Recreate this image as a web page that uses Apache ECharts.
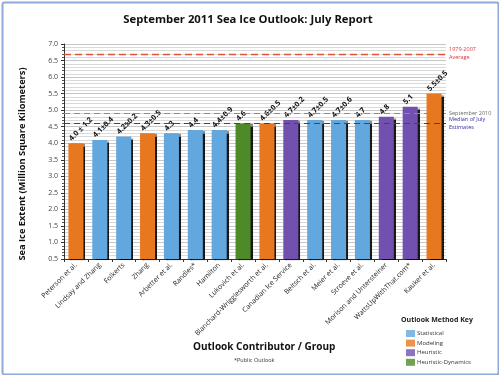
<!DOCTYPE html>
<html>
<head>
<meta charset="utf-8">
<script src="https://cdn.jsdelivr.net/npm/echarts@6/dist/echarts.min.js"></script>
<style>
  html, body { margin: 0; padding: 0; background: #fff; }
  #chart { width: 499px; height: 375px; }
</style>
</head>
<body>
<div id="chart"></div>
<script>
// outlook contributors, sorted by estimate
const categories = [
  "Peterson et al.", "Lindsay and Zhang", "Folkerts", "Zhang", "Arbetter et al.",
  "Randles*", "Hamilton", "Lukovich et al.", "Blanchard-Wrigglesworth et al.",
  "Canadian Ice Service", "Beitsch et al.", "Meier et al.", "Stroeve et al.",
  "Morison and Untersteiner", "WattsUpWithThat.com*", "Kauker et al."
];
const values = [4.0, 4.1, 4.2, 4.3, 4.3, 4.4, 4.4, 4.6, 4.6, 4.7, 4.7, 4.7, 4.7, 4.8, 5.1, 5.5];
const barLabels = [
  "4.0 ± 1.2", "4.1±0.4", "4.2±0.2", "4.3±0.5", "4.3", "4.4", "4.4±0.9", "4.6",
  "4.6±0.5", "4.7±0.2", "4.7±0.5", "4.7±0.6", "4.7", "4.8", "5.1", "5.5±0.5"
];
const methods = [
  "Modeling", "Statistical", "Statistical", "Modeling", "Statistical", "Statistical",
  "Statistical", "Heuristic-Dynamics", "Modeling", "Heuristic", "Statistical",
  "Statistical", "Statistical", "Heuristic", "Heuristic", "Modeling"
];
const methodNames = ["Statistical", "Modeling", "Heuristic", "Heuristic-Dynamics"];
const methodColors = {
  "Statistical": "#62a7de",
  "Modeling": "#e8781f",
  "Heuristic": "#7150b0",
  "Heuristic-Dynamics": "#4e8a28"
};
const yTicks = { min: 0.5, max: 7.0, step: 0.5 };
const avg7907 = 6.7;
const sept2010 = 4.9;
const julyMedian = 4.6;

const chart = echarts.init(document.getElementById("chart"));

const legendSeries = methodNames.map(function (m) {
  return { name: m, type: "scatter", data: [], itemStyle: { color: methodColors[m] } };
});

const option = {
  animation: false,
  title: {
    text: "September 2011 Sea Ice Outlook: July Report",
    left: 243, top: 9, textAlign: "center",
    textStyle: { fontFamily: "Open Sans", fontSize: 11.3, fontWeight: "bold", color: "#111" }
  },
  grid: { left: 64, right: 53, top: 44, bottom: 116 },
  legend: {
    data: methodNames,
    orient: "vertical",
    left: 401, top: 325,
    itemWidth: 9, itemHeight: 7, itemGap: 2.6,
    icon: "rect",
    textStyle: { fontFamily: "Open Sans", fontSize: 6, color: "#333", padding: [0, 0, 0, -3] }
  },
  graphic: [
    {
      type: "rect", left: 0, top: 0,
      shape: { x: 1, y: 1, width: 496, height: 372, r: 2 },
      style: { fill: "none", stroke: "#8eaad8", lineWidth: 2 }
    },
    {
      type: "text", x: 22, y: 164, rotation: Math.PI / 2,
      style: {
        text: "Sea Ice Extent (Million Square Kilometers)", fontFamily: "Open Sans",
        fontSize: 9.3, fontWeight: "bold", fill: "#111", align: "center", verticalAlign: "middle"
      }
    },
    {
      type: "text", left: 401, top: 316,
      style: { text: "Outlook Method Key", fontFamily: "Open Sans", fontSize: 7, fontWeight: "bold", fill: "#222" }
    },
    {
      type: "text", left: 193, top: 342,
      style: { text: "Outlook Contributor / Group", fontFamily: "Open Sans", fontSize: 10, fontWeight: "bold", fill: "#111" }
    },
    {
      type: "text", left: 234, top: 357,
      style: { text: "*Public Outlook", fontFamily: "Open Sans", fontSize: 5.5, fill: "#333" }
    }
  ],
  xAxis: {
    type: "category",
    data: categories,
    axisLine: { lineStyle: { color: "#333" } },
    axisTick: { show: true, length: 3, lineStyle: { color: "#333" } },
    axisLabel: {
      rotate: 45, interval: 0, margin: 5,
      fontFamily: "Open Sans", fontSize: 7, color: "#222"
    }
  },
  yAxis: {
    type: "value",
    min: yTicks.min, max: yTicks.max, interval: yTicks.step,
    axisLine: { show: true, lineStyle: { color: "#333" } },
    axisTick: { show: true, length: 3, lineStyle: { color: "#333" } },
    minorTick: { show: true, splitNumber: 5, length: 2, lineStyle: { color: "#555" } },
    splitLine: { show: true, lineStyle: { color: "#c6c6c6", width: 1 } },
    minorSplitLine: { show: true, lineStyle: { color: "#d9d9d9", width: 1 } },
    axisLabel: {
      fontFamily: "Open Sans", fontSize: 7, color: "#444", margin: 6,
      formatter: function (v) { return v.toFixed(1); }
    }
  },
  series: [
    {
      type: "bar",
      barWidth: "63%",
      data: values.map(function (v, i) {
        return {
          value: v,
          itemStyle: { color: methodColors[methods[i]] },
          label: { formatter: barLabels[i] }
        };
      }),
      itemStyle: {
        shadowColor: "rgba(0,0,0,0.9)", shadowOffsetX: 2, shadowOffsetY: 1, shadowBlur: 1
      },
      label: {
        show: true, position: "top", rotate: 45,
        align: "left", verticalAlign: "middle", offset: [-5, -3], distance: 5,
        fontFamily: "Open Sans", fontSize: 7.5, fontWeight: "bold", color: "#111"
      },
      markLine: {
        silent: true, symbol: "none",
        data: [
          {
            yAxis: avg7907,
            lineStyle: { color: "#e2553d", type: [7, 4], width: 1.3 },
            label: {
              formatter: "1979-2007\nAverage", position: "end", distance: 3,
              color: "#d9383a", fontFamily: "Open Sans", fontSize: 5.5, lineHeight: 8
            }
          },
          {
            yAxis: sept2010,
            lineStyle: { color: "#8c8c8c", type: [6, 4], width: 1 },
            label: {
              formatter: "September 2010", position: "end", distance: 3,
              color: "#666", fontFamily: "Open Sans", fontSize: 5.5
            }
          },
          {
            yAxis: julyMedian,
            lineStyle: { color: "#3b3ba8", type: [6, 4], width: 1 },
            label: {
              formatter: "Median of July\nEstimates", position: "end", distance: 3,
              color: "#2c2ca0", fontFamily: "Open Sans", fontSize: 5.5, lineHeight: 8
            }
          }
        ]
      }
    }
  ].concat(legendSeries)
};

chart.setOption(option);
window.addEventListener("resize", function () {
  chart.resize();
});
</script>
</body>
</html>
